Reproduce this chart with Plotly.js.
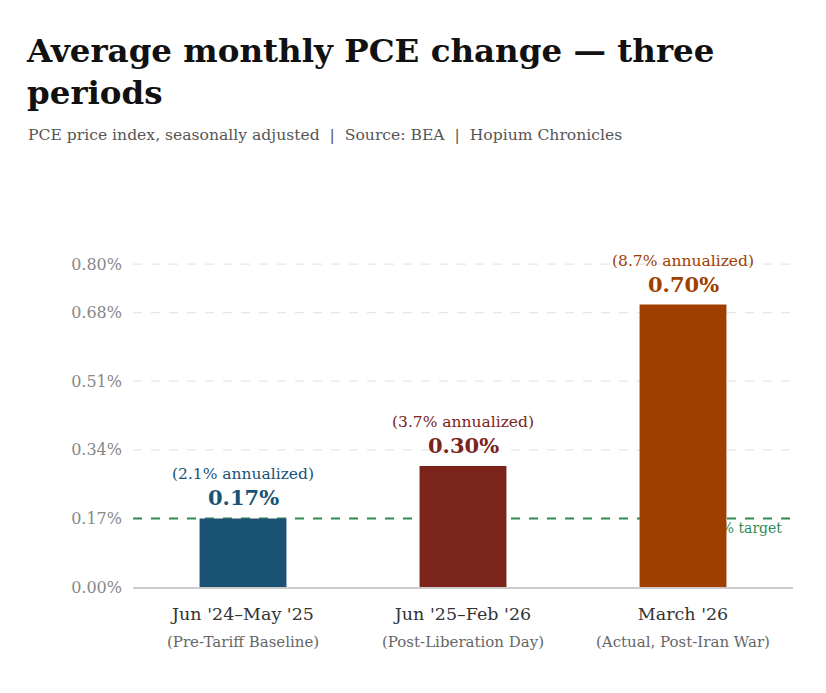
<!DOCTYPE html>
<html>
<head>
<meta charset="utf-8">
<script src="https://cdn.plot.ly/plotly-3.0.1.min.js"></script>
<style>html,body{margin:0;padding:0;background:#fff;}#chart{width:826px;height:693px;}</style>
</head>
<body>
<div id="chart"></div>
<script>
var categories = ["Jun '24–May '25", "Jun '25–Feb '26", "March '26"];
var subLabels = ["(Pre-Tariff Baseline)", "(Post-Liberation Day)", "(Actual, Post-Iran War)"];
var monthlyValues = [0.17, 0.30, 0.70];
var annualized = [2.1, 3.7, 8.7];
var barColors = ["#1a5276", "#7b241c", "#a04000"];
var tickVals = [0, 0.17, 0.34, 0.51, 0.68, 0.80];
var tickText = ["0.00%", "0.17%", "0.34%", "0.51%", "0.68%", "0.80%"];
var targetValue = 0.17;
var targetLabel = "2% target";

var FONT = "Georgia, 'DejaVu Serif', serif";

var trace = {
  type: "bar",
  x: categories,
  y: monthlyValues,
  marker: {color: barColors, line: {width: 0}},
  width: 0.395,
  hoverinfo: "skip",
  cliponaxis: false
};

var annotations = [];
categories.forEach(function (c, i) {
  annotations.push({
    x: c, y: monthlyValues[i], xref: "x", yref: "y",
    text: "<b>" + monthlyValues[i].toFixed(2) + "%</b>",
    showarrow: false, yanchor: "bottom", yshift: 6,
    font: {family: FONT, size: 21, color: barColors[i]}
  });
  annotations.push({
    x: c, y: monthlyValues[i], xref: "x", yref: "y",
    text: "(" + annualized[i].toFixed(1) + "% annualized)",
    showarrow: false, yanchor: "bottom", yshift: 33,
    font: {family: FONT, size: 15.5, color: barColors[i]}
  });
  annotations.push({
    x: c, y: 0, xref: "x", yref: "paper",
    text: subLabels[i],
    showarrow: false, yanchor: "middle", yshift: -55,
    font: {family: FONT, size: 15, color: "#666"}
  });
});
annotations.push({
  x: 0, xref: "paper", xanchor: "left", xshift: -107,
  y: 1, yref: "paper", yanchor: "middle", yshift: 113,
  text: "PCE price index, seasonally adjusted  |  Source: BEA  |  Hopium Chronicles",
  showarrow: false, font: {family: FONT, size: 15.6, color: "#555"}
});

var xMin = -0.5, xMax = categories.length - 0.5;

var shapes = [];
tickVals.forEach(function (v) {
  if (v === 0) return;
  shapes.push({
    type: "line", layer: "below",
    xref: "x", x0: xMin, x1: xMax,
    yref: "y", y0: v, y1: v,
    line: {color: "#e6e6e6", width: 1.2, dash: "dash"}
  });
});
shapes.push({
  type: "line", layer: "below",
  xref: "x", x0: xMin, x1: xMax,
  yref: "y", y0: targetValue, y1: targetValue,
  line: {color: "#2e8b57", width: 2, dash: "dash"}
});
shapes.push({
  type: "line", layer: "below",
  xref: "x", x0: xMin, x1: xMax - 0.05,
  yref: "y", y0: targetValue, y1: targetValue,
  line: {color: "rgba(0,0,0,0)", width: 0},
  label: {
    text: targetLabel, textposition: "end", yanchor: "top", xanchor: "right",
    padding: 1,
    font: {family: FONT, size: 14, color: "#2e8b57"}
  }
});

var layout = {
  width: 826, height: 693,
  paper_bgcolor: "#fff", plot_bgcolor: "#fff",
  margin: {l: 133, r: 33, t: 248, b: 106},
  showlegend: false,
  bargap: 0.6,
  font: {family: FONT},
  title: {
    text: "<b>Average monthly PCE change — three<br>periods</b>",
    x: 27 / 826, xanchor: "left", xref: "container",
    y: 1 - 62 / 693, yanchor: "top", yref: "container",
    font: {family: FONT, size: 32.5, color: "#111"}
  },
  xaxis: {
    type: "category",
    range: [xMin, xMax],
    tickvals: categories, ticktext: categories,
    tickfont: {family: FONT, size: 17.5, color: "#333"},
    showgrid: false, showline: true, linecolor: "#ccc", linewidth: 1.5,
    ticks: "", ticklabelstandoff: 10, fixedrange: true
  },
  yaxis: {
    range: [0, 0.84],
    tickvals: tickVals, ticktext: tickText,
    tickfont: {family: FONT, size: 16, color: "#888"},
    showgrid: false,
    zeroline: false, showline: false, ticks: "", ticklabelstandoff: 10, fixedrange: true
  },
  shapes: shapes,
  annotations: annotations
};

Plotly.newPlot("chart", [trace], layout, {displayModeBar: false, staticPlot: true});
</script>
</body>
</html>
